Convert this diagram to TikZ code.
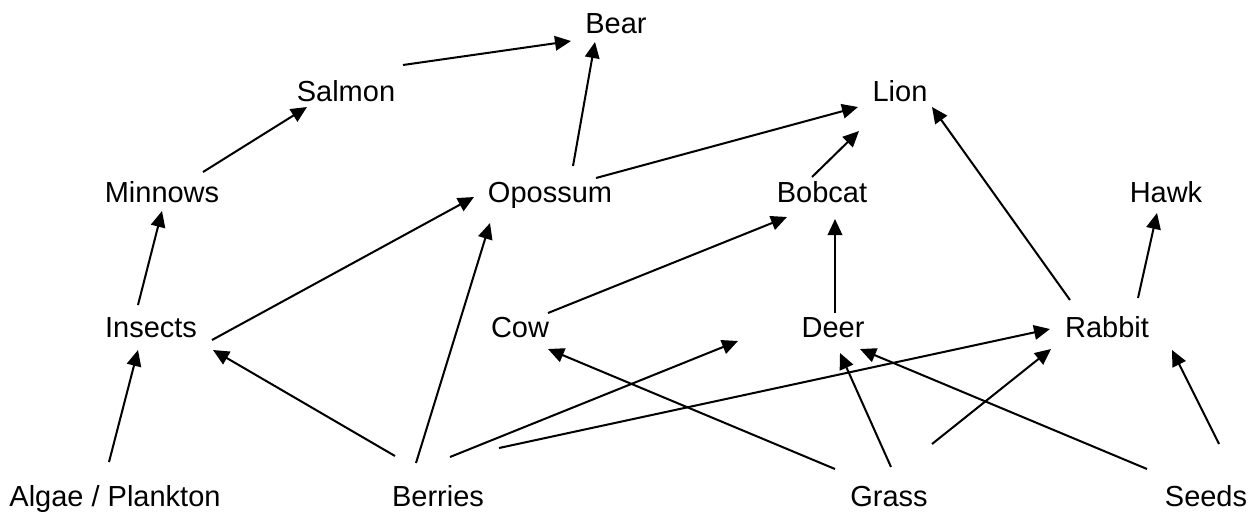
\documentclass[tikz,border=0pt]{standalone}
\usepackage{fontspec}
\setmainfont{Liberation Sans}
\usetikzlibrary{arrows.meta,calc}

\tikzset{
  animal/.style={font=\fontsize{16.5}{20}\selectfont, text height=11.8pt, text depth=0pt, inner sep=0pt},
  eats/.style={->, line width=1.15pt}
}

\begin{document}
\begin{tikzpicture}[x=0.02cm, y=-0.02cm, >={Triangle[length=0.32cm, width=0.29cm]}]
    \useasboundingbox (0,0) rectangle (1251,512);

    % Los animales y las plantas
    \node[animal] (bear)    at (616,23)  {Bear};
    \node[animal] (salmon)  at (346,91)  {Salmon};
    \node[animal] (lion)    at (900,91)  {Lion};
    \node[animal] (minnows) at (162,192) {Minnows};
    \node[animal] (opossum) at (550,192) {Opossum};
    \node[animal] (bobcat)  at (822,192) {Bobcat};
    \node[animal] (hawk)    at (1166,192) {Hawk};
    \node[animal] (insects) at (151,327) {Insects};
    \node[animal] (cow)     at (520,327) {Cow};
    \node[animal] (deer)    at (833,327) {Deer};
    \node[animal] (rabbit)  at (1107,327) {Rabbit};
    \node[animal] (algae)   at (115,496) {Algae / Plankton};
    \node[animal] (berries) at (438,496) {Berries};
    \node[animal] (grass)   at (889,496) {Grass};
    \node[animal] (seeds)   at (1206,496) {Seeds};
    \coordinate (loose) at (738,341);

    % Quien come a quien
    \draw[eats] ($(salmon)+(57,-26)$) -- ($(bear)+(-45,18)$);
    \draw[eats] ($(opossum)+(23,-26)$) -- ($(bear)+(-21,19)$);
    \draw[eats] ($(minnows)+(41,-20)$) -- ($(salmon)+(-39,16)$);
    \draw[eats] ($(opossum)+(46,-14)$) -- ($(lion)+(-42,16)$);
    \draw[eats] ($(bobcat)+(-10,-15)$) -- ($(lion)+(-41,40)$);
    \draw[eats] ($(rabbit)+(-37,-27)$) -- ($(lion)+(32,16)$);
    \draw[eats] ($(rabbit)+(31,-29)$) -- ($(hawk)+(-9,21)$);
    \draw[eats] ($(insects)+(-13,-22)$) -- ($(minnows)+(0,19)$);
    \draw[eats] ($(insects)+(61,13)$) -- ($(opossum)+(-76,5)$);
    \draw[eats] ($(berries)+(-22,-33)$) -- ($(opossum)+(-60,31)$);
    \draw[eats] ($(cow)+(28,-14)$) -- ($(bobcat)+(-35,25)$);
    \draw[eats] ($(deer)+(2,-14)$) -- ($(bobcat)+(13,27)$);
    \draw[eats] ($(berries)+(-43,-40)$) -- ($(insects)+(62,23)$);
    \draw[eats] ($(algae)+(-6,-34)$) -- ($(insects)+(-13,23)$);
    \draw[eats] ($(berries)+(12,-39)$) -- (loose);
    \draw[eats] ($(berries)+(61,-48)$) -- ($(rabbit)+(-57,2)$);
    \draw[eats] ($(grass)+(-54,-27)$) -- ($(cow)+(28,22)$);
    \draw[eats] ($(grass)+(2,-29)$) -- ($(deer)+(7,26)$);
    \draw[eats] ($(grass)+(43,-52)$) -- ($(rabbit)+(-56,22)$);
    \draw[eats] ($(seeds)+(-59,-27)$) -- ($(deer)+(27,22)$);
    \draw[eats] ($(seeds)+(13,-52)$) -- ($(rabbit)+(65,23)$);
\end{tikzpicture}
\end{document}
